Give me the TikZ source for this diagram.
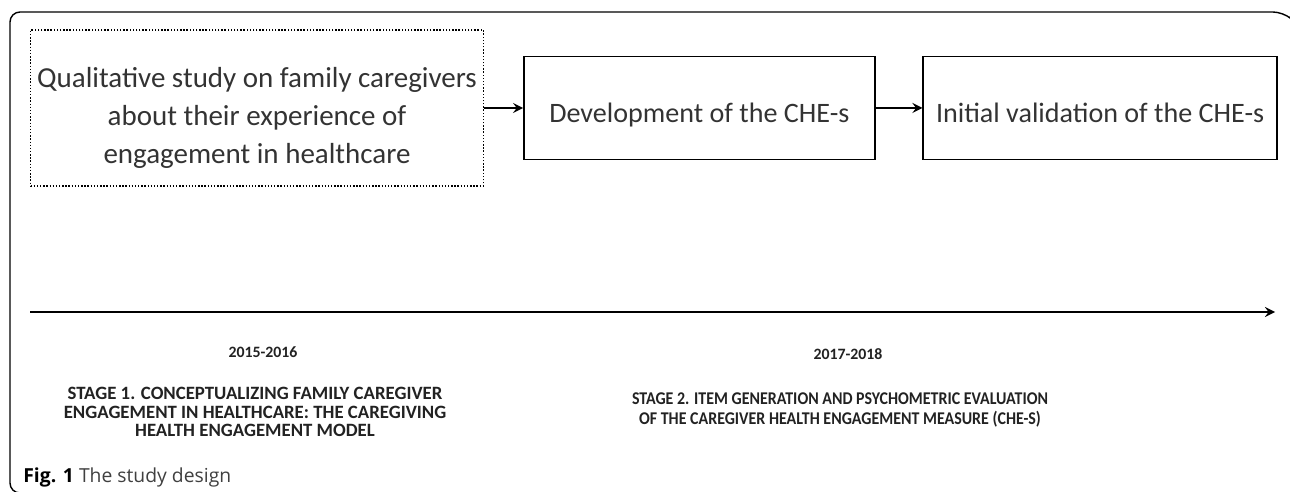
\documentclass[tikz,border=0pt]{standalone}
\usepackage{fontspec}
\setmainfont{Carlito}
\newfontfamily\captionfont{Open Sans}
\newfontfamily\stagenarrow[FakeStretch=0.89]{Carlito}
\usetikzlibrary{positioning, arrows}

\definecolor{boxtext}{HTML}{333333}
\definecolor{stagetext}{HTML}{222222}

\begin{document}
\begin{tikzpicture}[>=stealth, x=0.02cm, y=-0.02cm, node distance=0.78cm]
\useasboundingbox (0,0) rectangle (1290,492);

% Outer frame
\draw[line width=0.8pt, rounded corners=0.2cm] (22,493) -| (10,12) -- (1283,12) -- (1289,17);

% Define nodes
\node[draw, densely dotted, line width=0.8pt, inner sep=1pt, text=boxtext, align=center, font=\fontsize{16.5}{21.5}\selectfont, minimum width=9.06cm, minimum height=3.12cm] (quali) at (257,108) {\rule{0pt}{23pt}Qualitative study on family caregivers\\about their experience of\\engagement in healthcare};
\node[draw, line width=0.8pt, text height=20pt, text depth=4pt, text=boxtext, font=\fontsize{16}{21.5}\selectfont, minimum width=7.02cm, minimum height=2.06cm, right=of quali] (develop) {Development of the CHE-s};
\node[draw, line width=0.8pt, text height=20pt, text depth=4pt, text=boxtext, font=\fontsize{16}{21.5}\selectfont, minimum width=7.08cm, minimum height=2.06cm, right=0.94cm of develop] (valid) {Initial validation of the CHE-s};

% Draw edges with arrows
\draw[->, line width=1.5pt] (quali) -- (develop);
\draw[->, line width=1.5pt] (develop) -- (valid);

% Time axis
\coordinate (tstart) at (30,312);
\coordinate (tend) at (1275,312);
\draw[->, line width=1.5pt] (tstart) -- (tend);

% Stage labels
\node[text=stagetext, font=\bfseries\fontsize{9}{10}\selectfont] (year1) at (263,352) {2015-2016};
\node[text=stagetext, font=\bfseries\fontsize{9}{10}\selectfont] (year2) at (848,354) {2017-2018};
\node[text=stagetext, align=center, font=\bfseries\fontsize{10.7}{10.5}\selectfont] (stage1) at (255,412) {STAGE 1. CONCEPTUALIZING FAMILY CAREGIVER\\ENGAGEMENT IN HEALTHCARE: THE CAREGIVING\\HEALTH ENGAGEMENT MODEL};
\node[text=stagetext, align=center, font=\stagenarrow\bfseries\fontsize{10.2}{11.3}\selectfont] (stage2) at (840,410) {STAGE 2. ITEM GENERATION AND PSYCHOMETRIC EVALUATION\\OF THE CAREGIVER HEALTH ENGAGEMENT MEASURE (CHE-S)};

% Caption
\node[anchor=west, inner sep=0pt, font=\captionfont\fontsize{11}{13}\selectfont] (caption) at (23,477) {\textbf{Fig. 1} \textcolor{black!75}{The study design}};

\end{tikzpicture}
\end{document}
